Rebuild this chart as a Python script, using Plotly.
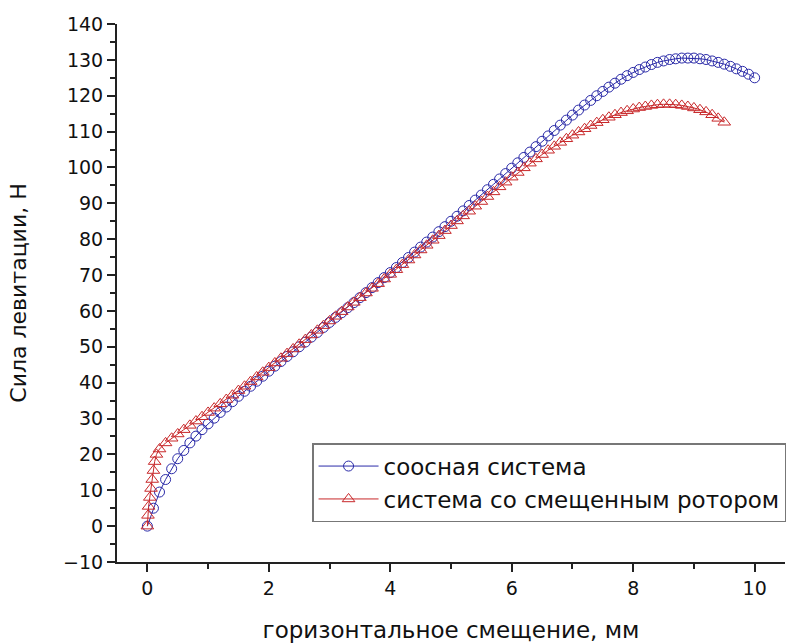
import plotly.graph_objects as go

# ---- data ----
x_coax = [round(i * 0.1, 1) for i in range(101)]
y_coax = [0, 5, 9.5, 13, 16, 18.8, 21.1, 23.2, 25.1, 26.9,
          28.5, 30.1, 31.7, 33.2, 34.7, 36.2, 37.6, 39.0, 40.4, 41.8,
          43.2, 44.6, 45.9, 47.3, 48.6, 50.0, 51.3, 52.7, 54.0, 55.4,
          56.8, 58.2, 59.5, 60.9, 62.3, 63.7, 65.1, 66.5, 67.9, 69.3,
          70.7, 72.1, 73.5, 74.9, 76.4, 77.8, 79.2, 80.6, 82.1, 83.5,
          85.0, 86.4, 87.9, 89.4, 90.9, 92.3, 93.8, 95.3, 96.8, 98.3,
          99.8, 101.3, 102.8, 104.3, 105.8, 107.3, 108.8, 110.3, 111.8, 113.2,
          114.6, 116.0, 117.4, 118.7, 120.0, 121.2, 122.4, 123.5, 124.6, 125.6,
          126.5, 127.3, 128.0, 128.7, 129.3, 129.7, 130.1, 130.3, 130.5, 130.5,
          130.5, 130.3, 130.1, 129.7, 129.3, 128.8, 128.2, 127.5, 126.8, 126.0,
          125.0]

x_shift = [0, 0.01, 0.02, 0.04, 0.06, 0.08, 0.1, 0.12, 0.15, 0.2] + \
          [round(0.3 + i * 0.1, 1) for i in range(93)]
y_shift = [0, 3, 5.5, 8, 10.5, 13, 15.5, 18, 20, 21.5,
           23.2, 24.5, 25.7, 26.9, 28.1, 29.3, 30.5, 31.7, 32.9, 34.1,
           35.3, 36.5, 37.8, 39.0, 40.3, 41.6, 42.9, 44.2, 45.5, 46.8,
           48.1, 49.4, 50.7, 52.0, 53.3, 54.6, 55.9, 57.2, 58.5, 59.8,
           61.1, 62.4, 63.7, 65.0, 66.3, 67.6, 68.9, 70.2,
           71.5, 72.9, 74.2, 75.6, 77.0, 78.3, 79.7, 81.0, 82.4, 83.8,
           85.1, 86.5, 87.8, 89.2, 90.5, 91.9, 93.2, 94.6, 95.9, 97.3,
           98.6, 99.9, 101.2, 102.4, 103.6, 104.8, 105.9, 107.0, 108.0, 109.0,
           109.9, 110.8, 111.7, 112.5, 113.3, 114.0, 114.7, 115.3, 115.8, 116.3,
           116.7, 117.0, 117.3, 117.5, 117.6, 117.6, 117.5, 117.3, 117.0, 116.6,
           116.1, 115.5, 114.7, 113.7, 112.6]

name_coax = "соосная система"
name_shift = "система со смещенным ротором"
x_title = "горизонтальное смещение, мм"
y_title = "Сила левитации, Н"

BLUE = "#2a2aa8"
RED = "#c8282a"
FONT = "DejaVu Sans, Liberation Sans, Arial, sans-serif"

fig = go.Figure()
fig.add_trace(go.Scatter(
    x=x_coax, y=y_coax, name=name_coax, mode="lines+markers",
    line=dict(color=BLUE, width=1),
    marker=dict(symbol="circle-open", size=10, color=BLUE, line=dict(width=1)),
))
fig.add_trace(go.Scatter(
    x=x_shift, y=y_shift, name=name_shift, mode="lines+markers",
    line=dict(color=RED, width=1),
    marker=dict(symbol="triangle-up-open", size=11, color=RED, line=dict(width=1)),
))

axis_common = dict(
    showline=True, linecolor="#222", linewidth=2, mirror=False,
    ticks="outside", ticklen=8, tickwidth=2, tickcolor="#222",
    showgrid=False, zeroline=False, automargin=False,
    tickfont=dict(family=FONT, size=19, color="#111"),
)

fig.update_layout(
    width=810, height=644,
    margin=dict(l=117, r=25, t=24, b=82),
    paper_bgcolor="white", plot_bgcolor="white",
    font=dict(family=FONT, color="#111"),
    xaxis=dict(range=[-0.5, 10.5], dtick=2, tick0=0,
               minor=dict(dtick=1, ticklen=5, tickwidth=2, tickcolor="#222", ticks="outside"),
               title=dict(text=x_title, font=dict(family=FONT, size=23), standoff=24),
               **axis_common),
    yaxis=dict(range=[-10, 140], dtick=10, tick0=0,
               minor=dict(dtick=5, ticklen=5, tickwidth=2, tickcolor="#222", ticks="outside"),
               title=dict(text=y_title, font=dict(family=FONT, size=22), standoff=30),
               **axis_common),
    legend=dict(x=0.292, y=0.221, xanchor="left", yanchor="top",
                bordercolor="#777", borderwidth=1.5, bgcolor="white",
                font=dict(family=FONT, size=23, color="#111"),
                tracegroupgap=0, itemwidth=60),
    showlegend=True,
)

fig.write_html("out.html")
